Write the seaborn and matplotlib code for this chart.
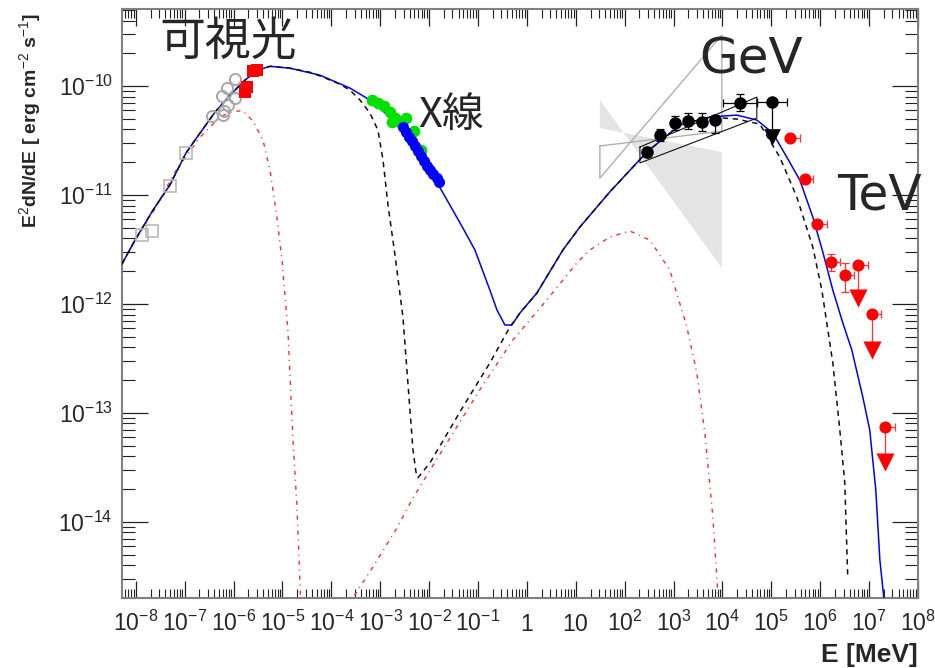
import numpy as np
import pandas as pd
import matplotlib
matplotlib.use("Agg")
import matplotlib.pyplot as plt
import seaborn as sns
from matplotlib.ticker import LogLocator, NullFormatter

sns.set_style("white")
plt.rcParams['font.family'] = ['Liberation Sans', 'DejaVu Sans']
plt.rcParams['mathtext.fontset'] = 'custom'
plt.rcParams['mathtext.rm'] = 'Liberation Sans'
plt.rcParams['mathtext.it'] = 'Liberation Sans:italic'
plt.rcParams['mathtext.bf'] = 'Liberation Sans:bold'

# ---------------- model curves (E [MeV], E^2 dN/dE [erg cm^-2 s^-1]) ----------------
total_E = [5.22e-9, 9.64e-9, 2.25e-8, 5.0e-8, 1.06e-7, 2.06e-7, 4.17e-7, 8.43e-7, 1.71e-6,
           3.16e-6, 5.55e-6, 1.42e-5, 5.85e-5, 2.40e-4, 6.15e-4, 1.58e-3, 4.05e-3, 1.04e-2,
           2.66e-2, 5.0e-2, 8.65e-2, 0.175, 0.244, 0.355, 0.493, 0.719, 1.60, 5.45, 12.1, 49.8, 284,
           1346, 5520, 1.97e4, 5.05e4, 1.07e5, 2.07e5, 3.83e5, 7.06e5, 1.13e6, 1.81e6, 2.90e6,
           4.43e6, 7.43e6, 1.03e7, 1.37e7, 1.66e7, 2.0e7, 2.09e7]
total_F = [2.33e-12, 3.86e-12, 7.28e-12, 1.24e-11, 2.43e-11, 3.71e-11, 5.77e-11, 8.26e-11, 1.135e-10,
           1.40e-10, 1.52e-10, 1.46e-10, 1.26e-10, 9.59e-11, 7.45e-11, 5.20e-11, 3.20e-11, 1.69e-11,
           8.09e-12, 4.9e-12, 3.13e-12, 1.34e-12, 8.81e-13, 6.41e-13, 6.41e-13, 8.26e-13, 1.26e-12, 3.13e-12,
           5.08e-12, 1.07e-11, 2.48e-11, 4.39e-11, 5.20e-11, 5.42e-11, 4.88e-11, 3.71e-11, 2.23e-11,
           1.37e-11, 6.28e-12, 3.00e-12, 1.34e-12, 6.70e-13, 3.78e-13, 1.40e-13, 6.98e-14, 1.97e-14,
           4.48e-15, 2.01e-15, 1.56e-15]

dashed_E = [5.22e-9, 9.64e-9, 2.25e-8, 5.0e-8, 1.06e-7, 2.06e-7, 4.17e-7, 8.43e-7, 1.71e-6,
            3.16e-6, 5.55e-6, 1.42e-5, 3.65e-5, 6.73e-5, 1.50e-4, 2.40e-4, 3.85e-4, 6.15e-4,
            8.97e-4, 1.14e-3, 1.44e-3, 2.0e-3, 2.91e-3, 3.68e-3, 4.67e-3, 5.37e-3, 5.90e-3,
            1.04e-2, 4.91e-2, 0.175, 0.449, 0.719, 1.60, 5.45, 12.1, 49.8, 284, 1346, 5520,
            1.97e4, 5.82e4, 1.49e5, 3.32e5, 7.06e5, 1.08e6, 1.81e6, 2.52e6, 3.18e6, 3.66e6]
dashed_F = [2.33e-12, 3.86e-12, 7.28e-12, 1.24e-11, 2.43e-11, 3.71e-11, 5.77e-11, 8.26e-11, 1.135e-10,
            1.40e-10, 1.52e-10, 1.46e-10, 1.34e-10, 1.21e-10, 1.04e-10, 9.18e-11, 7.45e-11, 5.65e-11,
            3.94e-11, 2.09e-11, 8.09e-12, 2.82e-12, 7.60e-13, 1.88e-13, 4.58e-14, 2.88e-14, 2.54e-14,
            3.48e-14, 1.135e-13, 2.88e-13, 6.15e-13, 8.26e-13, 1.26e-12, 3.13e-12, 5.08e-12, 1.07e-11,
            2.48e-11, 4.39e-11, 5.20e-11, 4.98e-11, 4.48e-11, 2.23e-11, 9.59e-12, 3.33e-12, 1.34e-12,
            2.88e-13, 6.98e-14, 2.28e-14, 3.06e-15]

red1_E = [5.22e-9, 9.64e-9, 2.25e-8, 6.34e-8, 2.06e-7, 5.27e-7, 9.72e-7, 1.56e-6, 2.49e-6,
          3.99e-6, 5.55e-6, 7.36e-6, 9.77e-6, 1.29e-5, 1.64e-5, 1.98e-5, 2.28e-5, 2.39e-5]
red1_F = [2.33e-12, 3.86e-12, 6.98e-12, 1.63e-11, 3.40e-11, 5.20e-11, 5.90e-11, 5.90e-11, 4.78e-11,
          3.20e-11, 1.69e-11, 7.28e-12, 2.54e-12, 5.77e-13, 5.65e-14, 1.37e-14, 2.75e-15, 1.40e-15]

red2_E = [2.40e-4, 2.77e-4, 7.10e-4, 2.20e-3, 4.67e-3, 2.31e-2, 0.109, 0.518, 2.56, 10.5, 19.4,
          49.8, 128, 327, 839, 1871, 2992, 4365, 6368, 8054, 8440]
red2_F = [1.56e-15, 2.01e-15, 3.86e-15, 8.81e-15, 1.66e-14, 5.31e-14, 1.63e-13, 4.68e-13, 1.09e-12,
          2.38e-12, 3.13e-12, 4.12e-12, 4.68e-12, 3.86e-12, 2.05e-12, 6.15e-13, 2.33e-13, 6.56e-14,
          1.11e-14, 2.23e-15, 1.40e-15]

# ---------------- data points ----------------
radio_E = [1.32e-8, 2.17e-8, 5.0e-8, 1.05e-7]
radio_F = [4.30e-12, 4.68e-12, 1.22e-11, 2.44e-11]

optical_E = [3.56e-7, 5.93e-7, 6.37e-7, 7.79e-7, 1.07e-6, 5.71e-7, 7.50e-7, 1.07e-6]
optical_F = [5.31e-11, 5.42e-11, 5.90e-11, 6.70e-11, 7.76e-11, 8.09e-11, 9.59e-11, 1.15e-10]

uv_E = [2.49e-6, 3.01e-6, 1.88e-6, 1.71e-6]
uv_F = [1.37e-10, 1.40e-10, 9.79e-11, 8.81e-11]

xg_E = [6.76e-4, 8.97e-4, 1.19e-3, 1.58e-3, 1.71e-3, 2.0e-3, 2.53e-3, 3.36e-3, 4.89e-3, 6.79e-3]
xg_F = [7.44e-11, 6.99e-11, 6.56e-11, 5.77e-11, 4.70e-11, 5.08e-11, 4.68e-11, 5.08e-11, 3.86e-11, 2.59e-11]

xb_E = [2.91e-3, 3.36e-3, 3.86e-3, 4.45e-3, 5.13e-3, 5.90e-3, 6.79e-3, 7.83e-3, 9.02e-3,
        1.04e-2, 1.20e-2, 1.45e-2, 1.58e-2]
xb_F = [4.21e-11, 3.78e-11, 3.40e-11, 3.13e-11, 2.82e-11, 2.54e-11, 2.28e-11, 2.05e-11, 1.85e-11,
        1.69e-11, 1.56e-11, 1.43e-11, 1.32e-11]

gev_E = [280, 525, 1064, 1960, 3740, 6990, 2.27e4, 1.01e5]
gev_F = [2.49e-11, 3.55e-11, 4.58e-11, 4.81e-11, 4.70e-11, 4.88e-11, 6.94e-11, 7.18e-11]
gev_F_lo = [2.24e-11, 3.13e-11, 3.95e-11, 4.06e-11, 3.89e-11, 3.68e-11, 5.93e-11, 3.40e-11]
gev_F_hi = [2.77e-11, 4.03e-11, 5.31e-11, 5.69e-11, 5.62e-11, 5.42e-11, 8.39e-11, 7.18e-11]
gev_E_lo = [280, 525, 1064, 1960, 3740, 6990, 1.03e4, 4.98e4]
gev_E_hi = [280, 525, 1064, 1960, 3740, 6990, 4.98e4, 2.05e5]
gev_ul_E = [1.01e5]
gev_ul_F = [3.40e-11]

tev_E = [2.39e5, 4.84e5, 8.65e5, 1.70e6, 3.19e6]
tev_F = [3.31e-11, 1.40e-11, 5.42e-12, 2.44e-12, 1.85e-12]
tev_E_hi = [3.83e5, 7.06e5, 1.35e6, 2.60e6, 4.87e6]
tev_F_lo = [3.31e-11, 1.40e-11, 5.42e-12, 2.02e-12, 1.30e-12]
tev_F_hi = [3.31e-11, 1.40e-11, 5.42e-12, 2.88e-12, 2.38e-12]

tevul_E = [5.96e6, 1.15e7, 2.16e7]
tevul_F = [2.28e-12, 8.05e-13, 7.48e-14]
tevul_E_hi = [9.55e6, 1.79e7, 3.36e7]
tevul_lim = [1.14e-12, 3.78e-13, 3.57e-14]

# bow-ties
bt_fill_E = [31.1, 9720, 9720, 31.1]
bt_fill_F = [7.44e-11, 2.14e-12, 2.48e-11, 4.12e-11]
bt_grey_E = [31.1, 9720, 9720, 31.1, 31.1]
bt_grey_F = [2.82e-11, 3.86e-11, 2.94e-10, 1.43e-11, 2.82e-11]
bt_black_E = [205, 5.05e4, 5.05e4, 205, 205]
bt_black_F = [2.76e-11, 7.92e-11, 5.08e-11, 1.97e-11, 2.76e-11]

x_ticks = [1e-8, 1e-7, 1e-6, 1e-5, 1e-4, 1e-3, 1e-2, 1e-1, 1, 10, 1e2, 1e3, 1e4, 1e5, 1e6, 1e7, 1e8]
x_tick_labels = [r'$10^{-8}$', r'$10^{-7}$', r'$10^{-6}$', r'$10^{-5}$', r'$10^{-4}$', r'$10^{-3}$',
                 r'$10^{-2}$', r'$10^{-1}$', r'$1$', r'$10$', r'$10^{2}$', r'$10^{3}$', r'$10^{4}$',
                 r'$10^{5}$', r'$10^{6}$', r'$10^{7}$', r'$10^{8}$']
y_ticks = [1e-14, 1e-13, 1e-12, 1e-11, 1e-10]
y_tick_labels = [r'$10^{-14}$', r'$10^{-13}$', r'$10^{-12}$', r'$10^{-11}$', r'$10^{-10}$']

# ---------------- figure ----------------
fig = plt.figure(figsize=(9.35, 6.68), dpi=100)
ax = fig.add_axes([0.1302, 0.1048, 0.8516, 0.8817])
ax.set_xscale('log')
ax.set_yscale('log')

ax.fill(bt_fill_E, bt_fill_F, color='#e4e4e4', lw=0, zorder=1)
ax.plot(bt_grey_E, bt_grey_F, color='#b0b0b0', lw=1.0, zorder=1.5)
ax.plot(bt_black_E, bt_black_F, color='#111111', lw=0.8, zorder=4)

red_c = '#ff3030'
sns.lineplot(x=red1_E, y=red1_F, sort=False, estimator=None, ax=ax, color=red_c, lw=1.0,
             linestyle=(0, (3, 3.5, 0.8, 3.5)), zorder=2)
sns.lineplot(x=red2_E, y=red2_F, sort=False, estimator=None, ax=ax, color=red_c, lw=1.0,
             linestyle=(0, (3, 3.5, 0.8, 3.5)), zorder=2)
sns.lineplot(x=total_E, y=total_F, sort=False, estimator=None, ax=ax, color='#0000ff', lw=1.1, zorder=3)
sns.lineplot(x=dashed_E, y=dashed_F, sort=False, estimator=None, ax=ax, color='#111111', lw=1.1,
             linestyle=(0, (3.5, 3)), zorder=3.5)

# data points
ax.plot(radio_E, radio_F, 's', mfc='none', mec='#b8b8b8', mew=1.2, ms=8, ls='none', zorder=5)
ax.plot(optical_E, optical_F, 'o', mfc='none', mec='#a8a8a8', mew=1.4, ms=8, ls='none', zorder=5)
sns.scatterplot(x=uv_E, y=uv_F, marker='s', s=64, color='#ff0000', linewidth=0, ax=ax, zorder=6)
sns.scatterplot(x=xg_E, y=xg_F, marker='o', s=70, color='#00e000', linewidth=0, ax=ax, zorder=6)
sns.scatterplot(x=xb_E, y=xb_F, marker='o', s=64, color='#0000ff', linewidth=0, ax=ax, zorder=6)

gE = np.array(gev_E); gF = np.array(gev_F)
ax.errorbar(gE, gF,
            xerr=[gE - np.array(gev_E_lo), np.array(gev_E_hi) - gE],
            yerr=[gF - np.array(gev_F_lo), np.array(gev_F_hi) - gF],
            fmt='o', color='k', ms=8, elinewidth=0.9, capsize=3, capthick=0.9, zorder=7)
sns.scatterplot(x=gev_ul_E, y=gev_ul_F, marker='v', s=144, color='k', linewidth=0, ax=ax, zorder=7)

tE = np.array(tev_E); tF = np.array(tev_F)
ax.errorbar(tE, tF,
            xerr=[np.zeros(len(tE)), np.array(tev_E_hi) - tE],
            yerr=[tF - np.array(tev_F_lo), np.array(tev_F_hi) - tF],
            fmt='o', color='#ff0000', ecolor='#ff3333', ms=7.7, elinewidth=0.9, capsize=3,
            capthick=0.9, zorder=7)
uE = np.array(tevul_E); uF = np.array(tevul_F)
ax.errorbar(uE, uF,
            xerr=[np.zeros(len(uE)), np.array(tevul_E_hi) - uE],
            yerr=[uF - np.array(tevul_lim), np.zeros(len(uE))],
            fmt='o', color='#ff0000', ecolor='#ff3333', ms=7.7, elinewidth=0.9, capsize=3,
            capthick=0.9, zorder=7)
sns.scatterplot(x=tevul_E, y=tevul_lim, marker='v', s=169, color='#ff0000', linewidth=0, ax=ax, zorder=7)

ax.set_xlim(5.15e-9, 1e8)
ax.set_ylim(2.0e-15, 5.1e-10)

ax.set_xticks(x_ticks, x_tick_labels)
ax.set_yticks(y_ticks, y_tick_labels)
ax.xaxis.set_minor_locator(LogLocator(base=10, subs=np.arange(2, 10), numticks=100))
ax.yaxis.set_minor_locator(LogLocator(base=10, subs=np.arange(2, 10), numticks=100))
ax.xaxis.set_minor_formatter(NullFormatter())
ax.yaxis.set_minor_formatter(NullFormatter())

ax.tick_params(axis='x', which='major', direction='in', length=12, width=0.9, top=True, bottom=True,
               labelsize=16.5, pad=24, color='#222222')
ax.tick_params(axis='x', which='minor', direction='in', length=6.5, width=0.8, top=True, bottom=True,
               color='#222222')
ax.tick_params(axis='y', which='major', direction='in', length=19, width=0.9, left=True, right=True,
               labelsize=16.5, pad=6.5, color='#222222')
ax.tick_params(axis='y', which='minor', direction='in', length=9.5, width=0.8, left=True, right=True,
               color='#222222')
for lbl in ax.get_xticklabels():
    lbl.set_verticalalignment('baseline')

for sp in ax.spines.values():
    sp.set_color('#808080')
    sp.set_linewidth(1.5)
ax.set_xlabel('')
ax.set_ylabel('')
ax.grid(False)

fig.text(30 / 935, 1 - 13 / 668, r'E$^{2}$dN/dE [ erg cm$^{-2}$ s$^{-1}$]', rotation=90,
         ha='center', va='top', fontsize=14, fontweight='bold')
fig.text(918 / 935, 1 - 662 / 668, 'E [MeV]', ha='right', va='baseline', fontsize=19, fontweight='bold')

fig.text(228 / 935, 1 - 42 / 668, '可視光', fontsize=33, family=['Noto Sans CJK JP'],
         ha='center', va='center')
fig.text(451 / 935, 1 - 115 / 668, 'X線', fontsize=30, family=['Noto Sans CJK JP'],
         ha='center', va='center')
fig.text(751 / 935, 1 - 60 / 668, 'GeV', fontsize=36, family=['DejaVu Sans'], ha='center', va='center')
fig.text(879 / 935, 1 - 195 / 668, 'TeV', fontsize=35, family=['DejaVu Sans'], ha='center', va='center')

fig.savefig('out.png', dpi=100, facecolor='white')
